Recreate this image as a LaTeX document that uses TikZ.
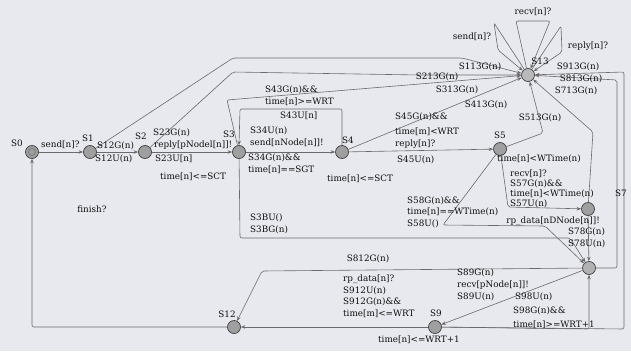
\documentclass[tikz,border=0pt]{standalone}
\usepackage{fontspec}
\setmainfont{DejaVu Serif}
\usetikzlibrary{arrows.meta}
\definecolor{bg}{RGB}{232,233,238}
\definecolor{ln}{RGB}{105,105,110}
\definecolor{tx}{RGB}{15,15,15}
\begin{document}
\begin{tikzpicture}[x=1pt,y=-1pt,
  state/.style={circle, draw=black!75, fill=gray!75, line width=0.7pt, minimum size=13pt, inner sep=0pt},
  lab/.style={font=\fontsize{8.8}{10}\selectfont, text=tx, inner sep=0pt, text height=6.5pt, text depth=1.5pt, anchor=west},
  clab/.style={lab, anchor=center},
  edge/.style={draw=ln, line width=0.6pt, -{Stealth[length=4.5pt,width=3.5pt]}, rounded corners=2pt}]
\fill[bg] (0,0) rectangle (631,351);
\useasboundingbox (0,0) rectangle (631,351);
% states
\node[state] (s0) at (32,152) {};
\draw[black!55, line width=0.6pt] (s0.center) circle (3.5pt);
\node[state] (s1) at (90,152) {};
\node[state] (s2) at (145,152) {};
\node[state] (s3) at (239,152) {};
\node[state] (s4) at (342,152) {};
\node[state] (s5) at (500,149) {};
\node[state, fill=gray!55] (s13) at (528,75) {};
\node[state] (s7) at (588,209) {};
\node[state, fill=gray!60] (s8) at (589,268) {};
\node[state] (s9) at (435,327) {};
\node[state] (s12) at (234,327) {};
% main row
\draw[edge] (s0) -- (s1);
\draw[edge] (s1) -- (s2);
\draw[edge] (s2) -- (s3);
\draw[edge] (s3) -- (s4);
\draw[edge] (s4.north) -- (342,109) -- (240,109) -- (s3.north);
\draw[edge] (s4) -- (s5);
\draw[edge] (s5) -- (508,207) -- (s7);
\draw[edge] (s5) -- (443,225) -- (545,226) -- (s8);
\draw[edge] (s7) -- (s8);
\draw[edge] (s3) -- (240,238) -- (570,238) -- (s8);
\draw[edge] (s8) -- (s9);
\draw[edge] (s9) -- (589,329) -- (s8);
\draw[edge] (s8) -- (262,271) -- (s12);
\draw[edge] (s9) -- (s12);
\draw[edge] (s12) -- (32,327) -- (s0);
% to S13
\draw[edge] (s1) -- (233,58) -- (462,58) -- (s13);
\draw[edge] (s2) -- (233,72) -- (420,75) -- (s13);
\draw[edge] (s3) -- (227,100) -- (s13);
\draw[edge] (s4) -- (s13);
\draw[edge] (s5) -- (543,133) -- (s13);
\draw[edge] (s7) -- (593,132) -- (s13);
\draw[edge] (s8) -- (617,268) -- (617,80) -- (s13);
\draw[edge] (s9) -- (624,329) -- (624,72) -- (s13);
% self loops
\draw[edge] (s13) -- (494,23) -- (498,50) -- (s13);
\draw[edge] (s13) -- (516,21) -- (550,21) -- (s13);
\draw[edge] (s13) -- (561,26) -- (562,52) -- (s13);
% state names
\node[clab] at (17,144) {S0};
\node[clab] at (88,139) {S1};
\node[clab] at (141,137) {S2};
\node[clab] at (229,135) {S3};
\node[clab] at (348,141) {S4};
\node[clab] at (500,136) {S5};
\node[clab] at (621,194) {S7};
\node[clab] at (436,314) {S9};
\node[clab] at (227,315) {S12};
\node[clab] at (540,62) {S13};
% labels
\node[lab] at (41,145) {send[n]?};
\node[lab] at (97,146) {S12G(n)};
\node[lab] at (95,159) {S12U(n)};
\node[lab] at (153,133) {S23G(n)};
\node[lab] at (154,145) {reply[pNodel[n]]!};
\node[lab] at (155,159) {S23U[n]};
\node[lab] at (160,177) {time[n]<=SCT};
\node[lab] at (250,131) {S34U(n)};
\node[lab] at (250,143) {send[nNode[n]]!};
\node[lab] at (248,158) {S34G(n)\&\&};
\node[lab] at (248,170) {time[n]==SGT};
\node[lab] at (265,90) {S43G(n)\&\&};
\node[lab] at (265,102) {time[n]>=WRT};
\node[lab] at (280,116) {S43U[n]};
\node[lab] at (327,179) {time[n]<=SCT};
\node[lab] at (395,117) {S45G(n)\&\&};
\node[lab] at (395,132) {time[m]<WRT};
\node[lab] at (395,144) {reply[n]?};
\node[lab] at (397,160) {S45U(n)};
\node[lab] at (497,159) {time[n]<WTime(n)};
\node[lab] at (510,174) {recv[n]?};
\node[lab] at (510,184) {S57G(n)\&\&};
\node[lab] at (510,194) {time[n]<WTime(n)};
\node[lab] at (510,204) {S57U(n)};
\node[lab, anchor=east] at (600,221) {rp\_data[nDNode[n]]!};
\node[lab] at (568,232) {S78G(n)};
\node[lab] at (568,244) {S78U(n)};
\node[lab] at (407,201) {S58G(n)\&\&};
\node[lab] at (407,212) {time[n]==WTime(n)};
\node[lab] at (407,224) {S58U()};
\node[lab] at (250,218) {S3BU()};
\node[lab] at (250,230) {S3BG(n)};
\node[clab] at (92,210) {finish?};
\node[clab] at (368,259) {S812G(n)};
\node[lab] at (343,279) {rp\_data[n]?};
\node[lab] at (343,291) {S912U(n)};
\node[lab] at (343,302) {S912G(n)\&\&};
\node[lab] at (343,314) {time[m]<=WRT};
\node[lab] at (378,340) {time[n]<=WRT+1};
\node[lab] at (457,273) {S89G(n)};
\node[lab] at (457,285) {recv[pNode[n]]!};
\node[lab] at (457,297) {S89U(n)};
\node[lab] at (515,297) {S98U(n)};
\node[lab] at (513,311) {S98G(n)\&\&};
\node[lab] at (513,325) {time[n]>=WRT+1};
\node[clab] at (472,37) {send[n]?};
\node[clab] at (533,12) {recv[n]?};
\node[clab] at (588,46) {reply[n]?};
\node[clab] at (480,67) {S113G(n)};
\node[clab] at (437,77) {S213G(n)};
\node[clab] at (457,90) {S313G(n)};
\node[clab] at (486,105) {S413G(n)};
\node[clab] at (540,118) {S513G(n)};
\node[clab] at (578,67) {S913G(n)};
\node[clab] at (581,79) {S813G(n)};
\node[clab] at (576,91) {S713G(n)};
\end{tikzpicture}
\end{document}
